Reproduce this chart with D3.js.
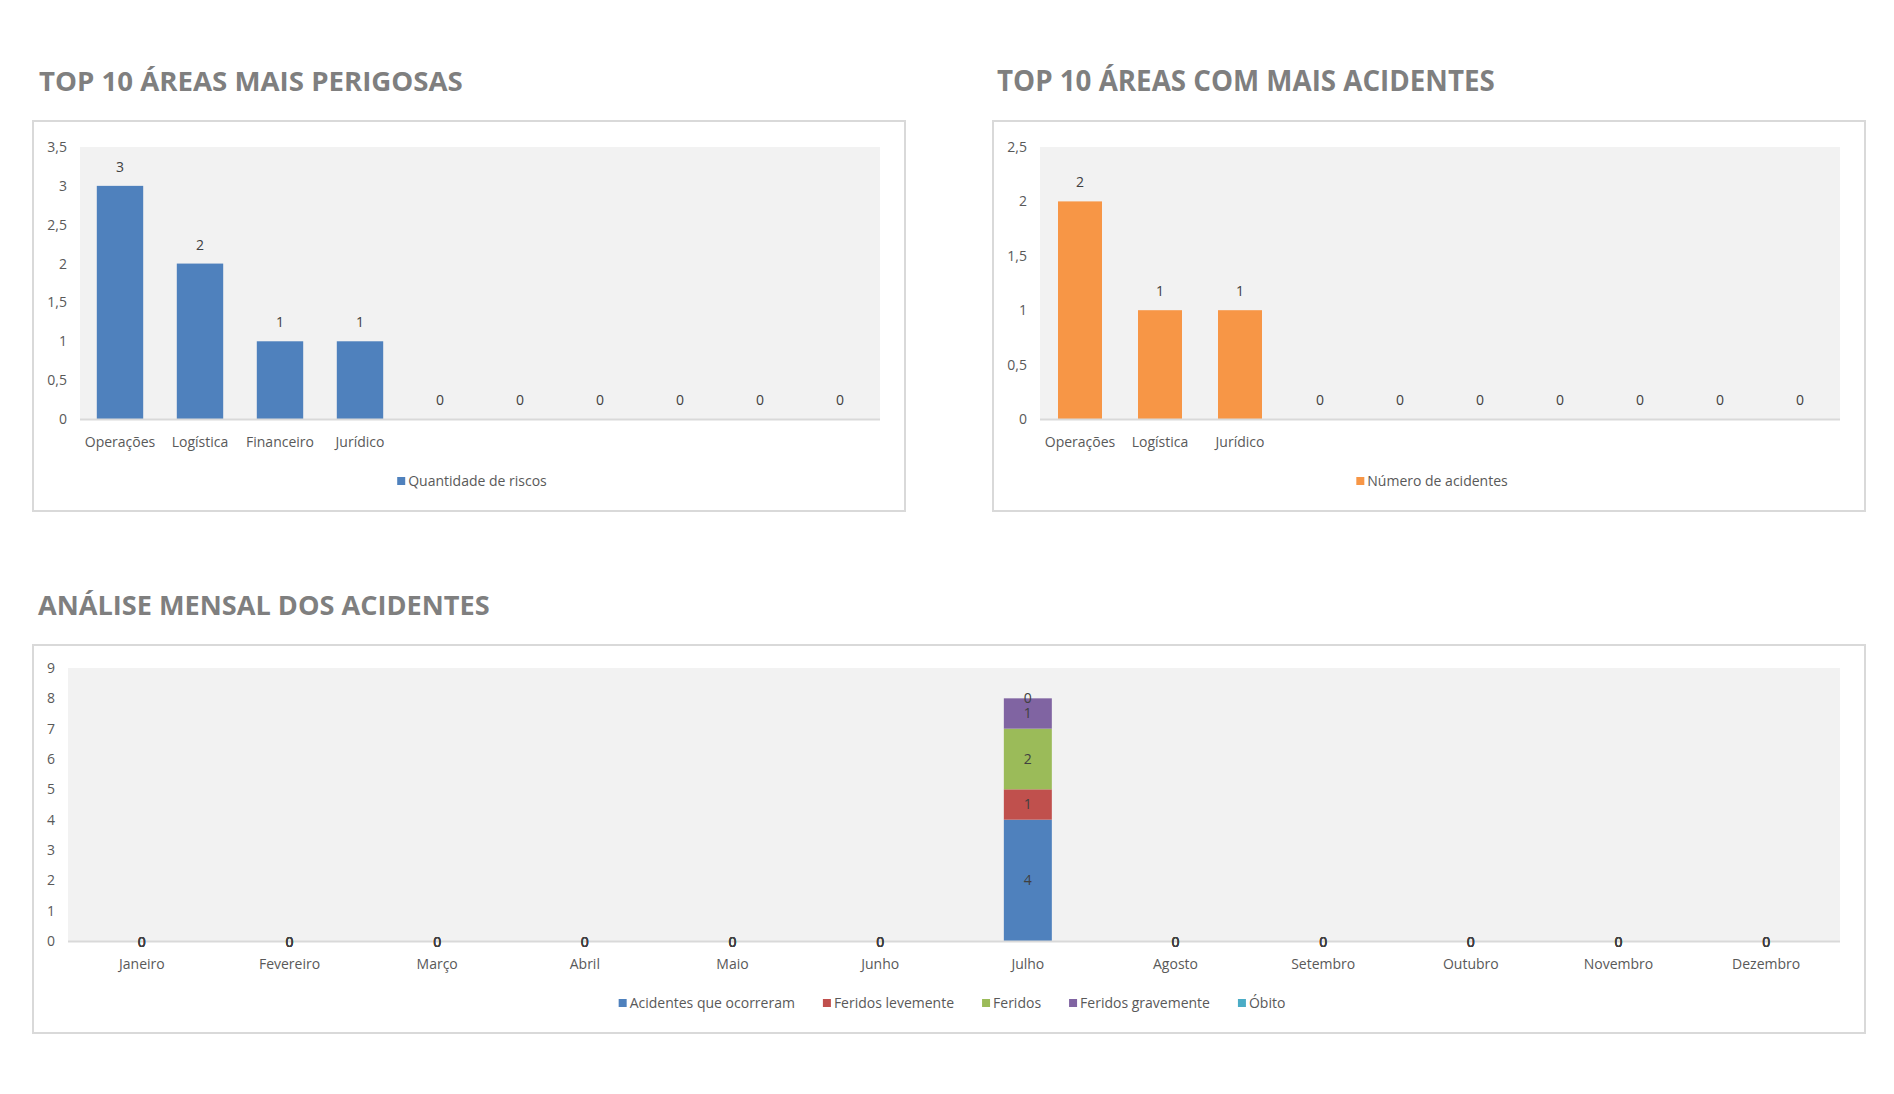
<!DOCTYPE html>
<html><head><meta charset="utf-8">
<script src="https://cdn.jsdelivr.net/npm/d3@7"></script>
<style>html,body{margin:0;padding:0;background:#fff;}svg{display:block;font-family:"Open Sans",sans-serif;}</style>
</head><body>
<svg id="c" width="1894" height="1094"></svg>
<script>
// ---- data ----
const riskAreas = ["Operações","Logística","Financeiro","Jurídico","","","","","",""];
const riskValues = [3,2,1,1,0,0,0,0,0,0];
const riskTicks = [0,0.5,1,1.5,2,2.5,3,3.5];
const accAreas = ["Operações","Logística","Jurídico","","","","","","",""];
const accValues = [2,1,1,0,0,0,0,0,0,0];
const accTicks = [0,0.5,1,1.5,2,2.5];
const months = ["Janeiro","Fevereiro","Março","Abril","Maio","Junho","Julho","Agosto","Setembro","Outubro","Novembro","Dezembro"];
const seriesNames = ["Acidentes que ocorreram","Feridos levemente","Feridos","Feridos gravemente","Óbito"];
const acidentes = [0,0,0,0,0,0,4,0,0,0,0,0];
const feridosLev = [0,0,0,0,0,0,1,0,0,0,0,0];
const feridos = [0,0,0,0,0,0,2,0,0,0,0,0];
const feridosGrav = [0,0,0,0,0,0,1,0,0,0,0,0];
const obito = [0,0,0,0,0,0,0,0,0,0,0,0];
const monthTicks = [0,1,2,3,4,5,6,7,8,9];
const titles = ["TOP 10 ÁREAS MAIS PERIGOSAS","TOP 10 ÁREAS COM MAIS ACIDENTES","ANÁLISE MENSAL DOS ACIDENTES"];

const seriesColors = ["#4f81bd","#c0504d","#9bbb59","#8064a2","#4bacc6"];
const fmt = v => String(v).replace(".", ",");
const svg = d3.select("#c");
const TICK = "#595959", LBL = "#404040", GRID = "#d9d9d9";

function title(text, x, y, targetW) {
  const t = svg.append("text").attr("x", x).attr("y", y)
    .attr("font-size", 30).attr("font-weight", 700).attr("fill", "#7f7f7f").text(text);
  const w = t.node().getComputedTextLength();
  t.attr("font-size", 30 * targetW / w);
}
function panel(x0, y0, x1, y1) {
  svg.append("rect").attr("x", x0).attr("y", y0).attr("width", x1 - x0).attr("height", y1 - y0)
    .attr("fill", "#fff").attr("stroke", GRID).attr("stroke-width", 2);
}
function legend(items, cx, cy) {
  const g = svg.append("g");
  let x = 0;
  items.forEach((it, i) => {
    g.append("rect").attr("x", x).attr("y", cy - 4).attr("width", 8).attr("height", 8).attr("fill", it.color);
    const t = g.append("text").attr("x", x + 11).attr("y", cy).attr("dy", "0.35em")
      .attr("font-size", 14).attr("fill", TICK).text(it.name);
    x += 11 + t.node().getComputedTextLength() + 28;
  });
  x -= 28;
  g.attr("transform", `translate(${cx - x / 2},0)`);
}
function yAxis(y, ticks, left, right) {
  const g = svg.append("g").attr("transform", `translate(${left},0)`)
    .call(d3.axisLeft(y).tickValues(ticks).tickSize(0).tickPadding(13).tickFormat(fmt));
  g.select(".domain").remove();
  g.selectAll("text").attr("font-size", 14).attr("fill", TICK).attr("font-family", "Open Sans");
}
function xAxis(x, labels, y0) {
  const g = svg.append("g").attr("transform", `translate(0,${y0})`)
    .call(d3.axisBottom(x).tickSize(0).tickPadding(18).tickFormat(i => labels[i]));
  g.select(".domain").remove();
  g.selectAll("text").attr("font-size", 14).attr("fill", TICK).attr("font-family", "Open Sans");
}

function barChart(opts) {
  const {box, plot, cats, vals, ticks, max, color, name, pad, ttl, ttlX, ttlW} = opts;
  title(ttl, ttlX, 91, ttlW);
  panel(...box);
  const [L, T, R, B] = plot;
  svg.append("rect").attr("x", L).attr("y", T).attr("width", R - L).attr("height", B - T).attr("fill", "#f2f2f2");
  const x = d3.scaleBand().domain(d3.range(cats.length)).range([L, R]).paddingInner(pad).paddingOuter(pad / 2);
  const y = d3.scaleLinear().domain([0, max]).range([B, T]);
  svg.append("g").selectAll("rect").data(vals).join("rect")
    .attr("x", (d, i) => x(i)).attr("width", x.bandwidth())
    .attr("y", d => y(d)).attr("height", d => B - y(d)).attr("fill", color);
  svg.append("line").attr("x1", L).attr("x2", R).attr("y1", B + 0.5).attr("y2", B + 0.5)
    .attr("stroke", GRID).attr("stroke-width", 2);
  svg.append("g").selectAll("text").data(vals).join("text")
    .attr("x", (d, i) => x(i) + x.bandwidth() / 2).attr("y", d => y(d) - 14)
    .attr("text-anchor", "middle").attr("font-size", 14).attr("fill", LBL).text(d => fmt(d));
  yAxis(y, ticks, L, R);
  xAxis(x, cats, B);
  legend([{name, color}], (box[0] + box[2]) / 2 + 3, 481);
}

barChart({box:[33,121,905,511], plot:[80,147,880,419], cats:riskAreas, vals:riskValues, ticks:riskTicks,
  max:3.5, color:"#4f81bd", name:"Quantidade de riscos", pad:0.42, ttl:titles[0], ttlX:39, ttlW:424});
barChart({box:[993,121,1865,511], plot:[1040,147,1840,419], cats:accAreas, vals:accValues, ticks:accTicks,
  max:2.5, color:"#f79646", name:"Número de acidentes", pad:0.45, ttl:titles[1], ttlX:997, ttlW:498});

// ---- stacked monthly chart ----
(function(){
  title(titles[2], 38, 615, 452);
  panel(33, 645, 1865, 1033);
  const L = 68, T = 668, R = 1840, B = 941;
  svg.append("rect").attr("x", L).attr("y", T).attr("width", R - L).attr("height", B - T).attr("fill", "#f2f2f2");
  const x = d3.scaleBand().domain(d3.range(months.length)).range([L, R]).paddingInner(0.675).paddingOuter(0.3375);
  const y = d3.scaleLinear().domain([0, 9]).range([B, T]);
  const rows = months.map((m, i) => ({i, s0: acidentes[i], s1: feridosLev[i], s2: feridos[i], s3: feridosGrav[i], s4: obito[i]}));
  const keys = ["s0","s1","s2","s3","s4"];
  const stack = d3.stack().keys(keys)(rows);
  stack.forEach((layer, k) => {
    svg.append("g").selectAll("rect").data(layer).join("rect")
      .attr("x", d => x(d.data.i)).attr("width", x.bandwidth())
      .attr("y", d => y(d[1])).attr("height", d => y(d[0]) - y(d[1]))
      .attr("fill", seriesColors[k]);
  });
  svg.append("line").attr("x1", L).attr("x2", R).attr("y1", B + 0.5).attr("y2", B + 0.5)
    .attr("stroke", GRID).attr("stroke-width", 2);
  stack.forEach((layer, k) => {
    svg.append("g").selectAll("text").data(layer).join("text")
      .attr("x", d => x(d.data.i) + x.bandwidth() / 2)
      .attr("y", d => y((d[0] + d[1]) / 2) + (d[1] === 0 ? 1 : 0))
      .attr("dy", "0.35em").attr("text-anchor", "middle").attr("font-size", 14)
      .attr("fill", LBL).text(d => fmt(d[1] - d[0]));
  });
  yAxis(y, monthTicks, L, R);
  xAxis(x, months, B);
  legend(seriesNames.map((n, k) => ({name: n, color: seriesColors[k]})), 952, 1003);
})();
</script>
</body></html>
